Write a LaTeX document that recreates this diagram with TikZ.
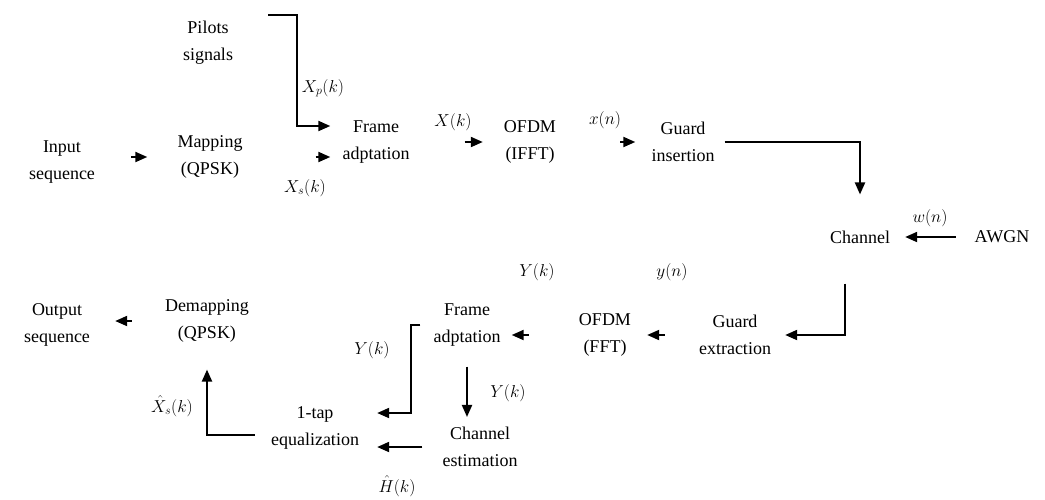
\documentclass[tikz,border=0pt]{standalone}
\usepackage{fontspec}
\setmainfont{Liberation Serif}
\newfontfamily\diagserif{Liberation Serif}
\usetikzlibrary{arrows.meta,calc}
\begin{document}
\begin{tikzpicture}[x=1pt,y=-1pt,
  blk/.style={inner sep=0pt,align=center,font=\diagserif\fontsize{18}{27}\selectfont},
  lbl/.style={inner sep=0pt,font=\fontsize{17}{19}\selectfont},
  arr/.style={line width=2pt,-{Triangle[length=12pt,width=10pt]}}]
\useasboundingbox (0,0) rectangle (1045,499);
% blocks
\node[blk] (pilots) at (208,43) {Pilots\\signals};
\node[blk] (input) at (62,162) {Input\\sequence};
\node[blk] (map) at (210,157) {Mapping\\(QPSK)};
\node[blk] (frame1) at (376,142) {Frame\\adptation};
\node[blk] (ifft) at (530,142) {OFDM\\(IFFT)};
\node[blk] (gins) at (683,142) {Guard\\insertion};
\node[blk] (channel) at (860,237) {Channel};
\node[blk] (awgn) at (1002,237) {AWGN};
\node[blk] (gext) at (735,335) {Guard\\extraction};
\node[blk] (fft) at (605,335) {OFDM\\(FFT)};
\node[blk] (frame2) at (467,325) {Frame\\adptation};
\node[blk] (est) at (480,447) {Channel\\estimation};
\node[blk] (eq) at (315,428) {1-tap\\equalization};
\node[blk] (demap) at (207,321) {Demapping\\(QPSK)};
\node[blk] (out) at (57,325) {Output\\sequence};
\coordinate (ptop) at (268,15);
% labels
\node[lbl] (lxp) at (323,88) {$X_p(k)$};
\node[lbl] (lxs) at (305,188) {$X_s(k)$};
\node[lbl] (lX) at (453,122) {$X(k)$};
\node[lbl] (lx) at (605,120) {$x(n)$};
\node[lbl] (lw) at (930,218) {$w(n)$};
\node[lbl] (ly) at (672,272) {$y(n)$};
\node[lbl] (lY1) at (537,272) {$Y(k)$};
\node[lbl] (lY2) at (372,350) {$Y(k)$};
\node[lbl] (lY3) at (508,393) {$Y(k)$};
\node[lbl] (lH) at (397,486) {$\hat{H}(k)$};
\node[lbl] (lXh) at (172,406) {$\hat{X}_s(k)$};
% connectors
\draw[arr] (ptop) -| (297,126) -- ($(frame1.west)+(-12,-16)$);
\draw[arr,shorten <=36pt,shorten >=30pt] (input.east |- map.west) -- (map.west);
\draw[arr,shorten <=73pt,shorten >=12pt] (map.east) -- (map.east -| frame1.west);
\draw[arr,shorten <=55pt,shorten >=21pt] (frame1.east) -- (frame1.east -| ifft.west);
\draw[arr,shorten <=64pt,shorten >=16pt] (ifft.east) -- (ifft.east -| gins.west);
\draw[arr,shorten <=10pt,shorten >=36pt] (gins.east) -| (channel.north);
\draw[arr,shorten <=19pt,shorten >=15pt] (awgn.west) -- (channel.east);
\draw[arr,shorten <=40pt,shorten >=14pt] ([xshift=-15pt]channel.south) |- (gext.east);
\draw[arr,shorten <=34pt,shorten >=16pt] (gext.west) -- (gext.west -| fft.east);
\draw[arr,shorten <=50pt,shorten >=11pt] (fft.west) -- (fft.west -| frame2.east);
\draw[arr,shorten <=13pt,shorten >=18pt] (frame2.west) -- ++(-22,0) |- ($(eq.east)+(0,-15)$);
\draw[arr,shorten <=20pt,shorten >=10pt] (frame2.south) -- (frame2.south |- est.north);
\draw[arr,shorten <=20pt,shorten >=18pt] (est.west) -- (est.west -| eq.east);
\draw[arr,shorten <=16pt,shorten >=27pt] ($(eq.west)+(0,7)$) -| (demap.south);
\draw[arr,shorten <=33pt,shorten >=25pt] (demap.west) -- (demap.west -| out.east);
\end{tikzpicture}
\end{document}
